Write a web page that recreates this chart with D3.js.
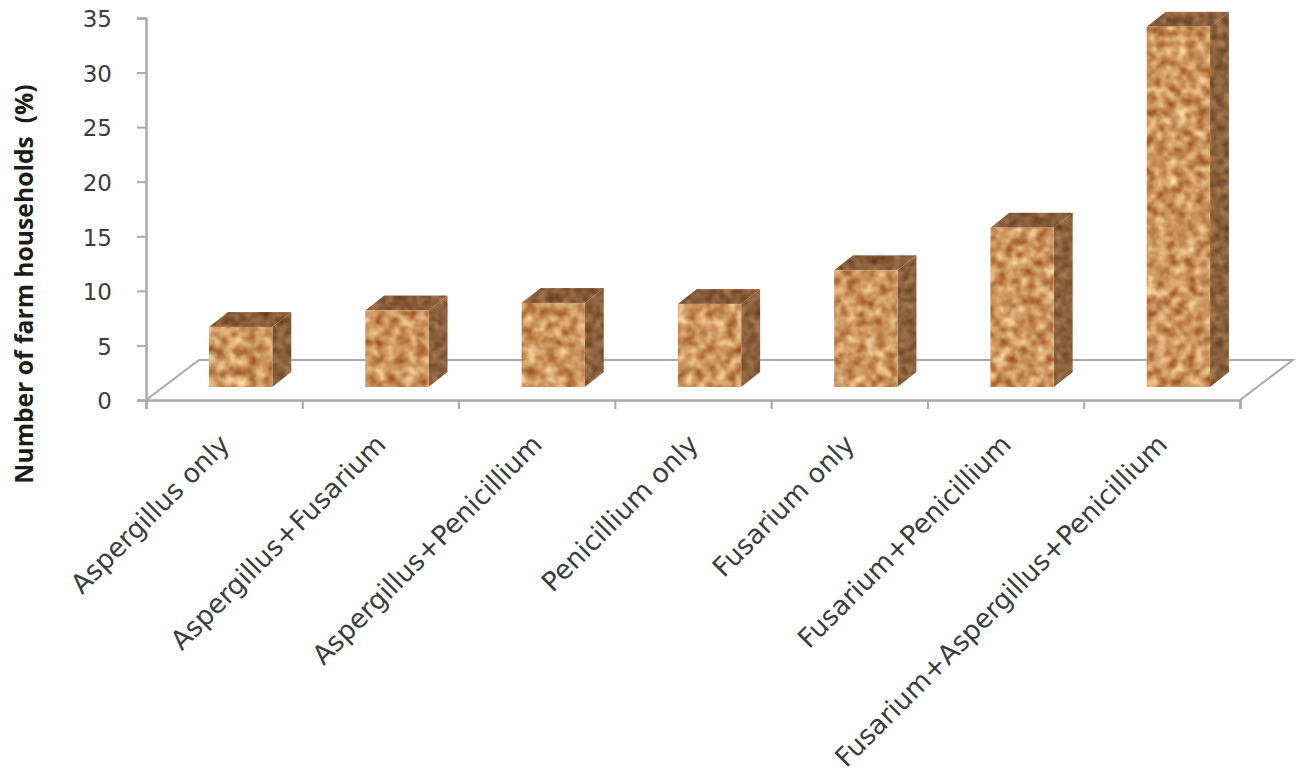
<!DOCTYPE html>
<html>
<head>
<meta charset="utf-8">
<script src="https://cdn.jsdelivr.net/npm/d3@7/dist/d3.min.js"></script>
<style>
  html, body { margin: 0; padding: 0; background: #fff; }
  svg { display: block; }
  text { font-family: "DejaVu Sans", "Open Sans", sans-serif; fill: #3a3d40; }
</style>
</head>
<body>
<svg id="chart" width="1297" height="775"></svg>
<script>
// Fungal contamination categories and the share of farm households in each
const categories = [
  "Aspergillus only",
  "Aspergillus+Fusarium",
  "Aspergillus+Penicillium",
  "Penicillium only",
  "Fusarium only",
  "Fusarium+Penicillium",
  "Fusarium+Aspergillus+Penicillium"
];
const households = [5.5, 7.0, 7.7, 7.6, 10.7, 14.6, 33.0];
const yTicks = [0, 5, 10, 15, 20, 25, 30, 35];
const yTitle = "Number of farm households  (%)";

const svg = d3.select("#chart");

// Plot geometry: the front floor edge and the oblique offset of the back wall
const plot = { left: 146, right: 1240, top: 18, bottom: 400 };
const wall = { dx: 53, dy: -40 };
const barDepth = { dx: 19, dy: -15 };
const barLift = { dx: 16.5, dy: -13 };

const x = d3.scaleBand().domain(categories).range([plot.left, plot.right]).paddingInner(0.595).paddingOuter(0.2975);
const y = d3.scaleLinear().domain([0, 35]).range([plot.bottom, plot.top]);

// Cork-like surface: noise recoloured per face, clipped to the face's shape
const defs = svg.append("defs");
const faces = {
  front: { r: [0.62, 0.49], g: [0.85, 0.16], b: [0.85, -0.05], freq: 0.1 },
  top:   { r: [0.45, 0.31], g: [0.40, 0.16], b: [0.35, 0.05], freq: 0.13 },
  side:  { r: [0.45, 0.32], g: [0.40, 0.18], b: [0.35, 0.06], freq: 0.13 }
};
Object.entries(faces).forEach(([name, f]) => {
  const filter = defs.append("filter")
    .attr("id", "cork-" + name)
    .attr("color-interpolation-filters", "sRGB")
    .attr("x", "-5%").attr("y", "-5%").attr("width", "110%").attr("height", "110%");
  filter.append("feTurbulence")
    .attr("type", "fractalNoise")
    .attr("baseFrequency", f.freq)
    .attr("numOctaves", 4)
    .attr("seed", 7)
    .attr("result", "noise");
  filter.append("feColorMatrix")
    .attr("in", "noise")
    .attr("type", "matrix")
    .attr("values", [
      f.r[0], 0, 0, 0, f.r[1],
      f.g[0], 0, 0, 0, f.g[1],
      f.b[0], 0, 0, 0, f.b[1],
      0, 0, 0, 0, 1
    ].join(" "))
    .attr("result", "tone");
  filter.append("feGaussianBlur").attr("in", "tone").attr("stdDeviation", 0.8).attr("result", "soft");
  filter.append("feComposite").attr("in", "soft").attr("in2", "SourceGraphic").attr("operator", "in");
});

const gridColor = "#a9a9a9";

// Floor parallelogram, back edge first so the bars sit over it
const floor = d3.path();
floor.moveTo(plot.left, plot.bottom);
floor.lineTo(plot.left + wall.dx, plot.bottom + wall.dy);
floor.lineTo(plot.right + wall.dx, plot.bottom + wall.dy);
floor.lineTo(plot.right, plot.bottom);
svg.append("path")
  .attr("d", floor.toString())
  .attr("fill", "none")
  .attr("stroke", gridColor)
  .attr("stroke-width", 2);

// Axes
const yAxis = d3.axisLeft(y).tickValues(yTicks).tickSize(9).tickPadding(25);
const gy = svg.append("g").attr("transform", `translate(${plot.left},0)`).call(yAxis);
gy.select(".domain").attr("stroke", gridColor).attr("stroke-width", 2.5);
gy.selectAll(".tick line").attr("stroke", gridColor).attr("stroke-width", 2);
gy.selectAll(".tick text").attr("font-size", 23).attr("dy", "0.38em");

const xTickScale = d3.scalePoint().domain(d3.range(categories.length + 1)).range([plot.left, plot.right]);
const xAxis = d3.axisBottom(xTickScale).tickSize(9).tickFormat("");
const gx = svg.append("g").attr("transform", `translate(0,${plot.bottom})`).call(xAxis);
gx.select(".domain").attr("stroke", gridColor).attr("stroke-width", 2.5);
gx.selectAll(".tick line").attr("stroke", gridColor).attr("stroke-width", 2);

// Bars as three oblique faces
const bars = svg.append("g").selectAll("g")
  .data(categories.map((name, i) => ({ name, value: households[i] })))
  .join("g")
  .attr("transform", `translate(${barLift.dx},${barLift.dy})`);

const pts = a => a.map(p => p.join(",")).join(" ");
const bx0 = d => x(d.name);
const bx1 = d => x(d.name) + x.bandwidth();
const ty = d => y(d.value);
const by = () => y(0);

bars.append("polygon")
  .attr("filter", "url(#cork-top)")
  .attr("points", d => pts([
    [bx0(d), ty(d)], [bx0(d) + barDepth.dx, ty(d) + barDepth.dy],
    [bx1(d) + barDepth.dx, ty(d) + barDepth.dy], [bx1(d), ty(d)]
  ]));
bars.append("polygon")
  .attr("filter", "url(#cork-side)")
  .attr("points", d => pts([
    [bx1(d), ty(d)], [bx1(d) + barDepth.dx, ty(d) + barDepth.dy],
    [bx1(d) + barDepth.dx, by() + barDepth.dy], [bx1(d), by()]
  ]));
bars.append("polygon")
  .attr("filter", "url(#cork-front)")
  .attr("points", d => pts([
    [bx0(d), ty(d)], [bx1(d), ty(d)], [bx1(d), by()], [bx0(d), by()]
  ]));

// Slanted category labels, ending just under each band's middle
svg.append("g").selectAll("text")
  .data(categories)
  .join("text")
  .attr("text-anchor", "end")
  .attr("font-size", 26.7)
  .attr("transform", d => `translate(${x(d) + x.bandwidth() / 2 + 7},${plot.bottom + 46}) rotate(-45)`)
  .text(d => d);

// Y axis title
svg.append("text")
  .attr("transform", `translate(33,${(85 + 483) / 2}) rotate(-90)`)
  .attr("text-anchor", "middle")
  .attr("font-size", 24.7)
  .attr("font-weight", 700)
  .style("font-family", "'Open Sans', sans-serif")
  .style("fill", "#1c1c1c")
  .style("white-space", "pre")
  .text(yTitle);
</script>
</body>
</html>
